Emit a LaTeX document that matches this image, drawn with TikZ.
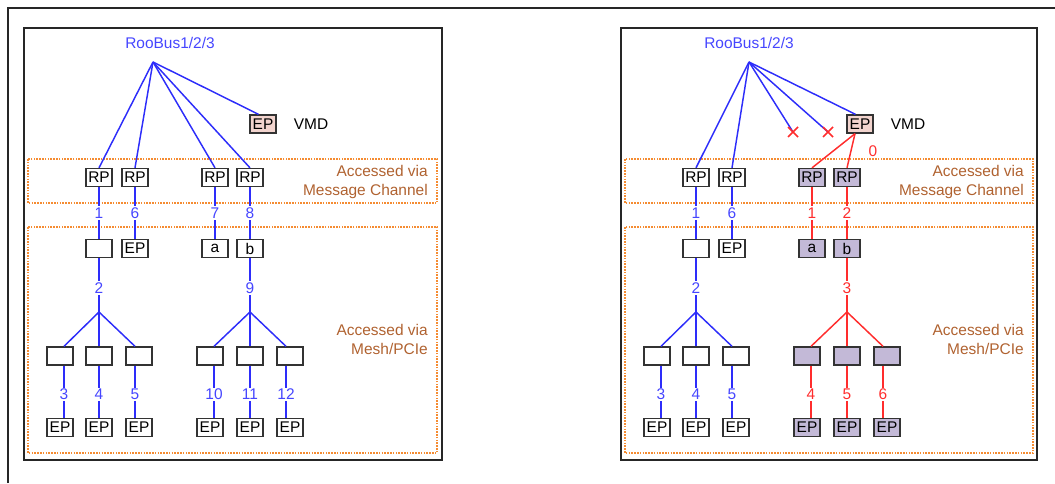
\documentclass[tikz,border=0pt]{standalone}
\usepackage{fontspec}
\setmainfont{Liberation Sans}
\usetikzlibrary{calc}
\definecolor{lnblue}{RGB}{45,45,250}
\definecolor{txblue}{RGB}{70,70,255}
\definecolor{lnred}{RGB}{255,45,45}
\definecolor{purp}{RGB}{195,185,215}
\definecolor{pinkf}{RGB}{242,212,206}
\definecolor{dotor}{RGB}{245,140,50}
\definecolor{brn}{RGB}{176,98,48}
\begin{document}
\begin{tikzpicture}[x=0.75pt,y=-0.75pt,
 font=\fontsize{11.6}{14.25}\selectfont,
 bx/.style={draw=black!80, line width=1pt, minimum width=19.5pt, minimum height=13.5pt, inner sep=0pt, fill=white},
 pbx/.style={bx, fill=purp},
 ebx/.style={bx, fill=pinkf},
 bl/.style={draw=lnblue, line width=1.1pt},
 rd/.style={draw=lnred, line width=1.1pt},
 numb/.style={fill=white, inner sep=1pt, text=txblue},
 numr/.style={fill=white, inner sep=1pt, text=lnred},
 zone/.style={draw=dotor, line width=1pt, dash pattern=on 1.2pt off 0.9pt},
 panel/.style={draw=black!85, line width=1.6pt},
 note/.style={text=brn, align=right, anchor=east, inner sep=0pt},
]
\useasboundingbox (0,0) rectangle (1055,483);
\draw[black!85, line width=0.9pt] (8,483) -- (8,8) -- (1056,8);

% ================= LEFT PANEL =================
\draw[panel] (24,28) rectangle (442,460);
\draw[zone] (28,159) rectangle (437,203);
\draw[zone] (28,227) rectangle (437,453);
\node[note] (Lmc) at (428,181.5) {Accessed via\\Message Channel};
\node[note] (Lmp) at (428,339) {Accessed via\\Mesh/PCIe};
\node[text=txblue] (Lbus) at (170,43) {RooBus1/2/3};
\coordinate (Lroot) at (153,62);
\node[ebx] (LEP) at (263,124) {EP};
\node (Lvmd) at (311,124) {VMD};
\node[bx] (LRP1) at (99,177.5) {RP};
\node[bx] (LRP2) at (135,177.5) {RP};
\node[bx] (LRP3) at (215,177.5) {RP};
\node[bx] (LRP4) at (250,177.5) {RP};
\node[bx] (LB1) at (99,248.5) {};
\node[bx] (LB2) at (135,248.5) {EP};
\node[bx] (LB3) at (215,248.5) {a};
\node[bx] (LB4) at (250,248.5) {b};
\coordinate (Lj1) at (99,312);
\coordinate (Lj2) at (250,312);
\node[bx] (LC1) at (60,356) {};
\node[bx] (LC2) at (99,356) {};
\node[bx] (LC3) at (139,356) {};
\node[bx] (LC4) at (210,356) {};
\node[bx] (LC5) at (250,356) {};
\node[bx] (LC6) at (290,356) {};
\node[bx] (LE1) at (60,427.5) {EP};
\node[bx] (LE2) at (99,427.5) {EP};
\node[bx] (LE3) at (139,427.5) {EP};
\node[bx] (LE4) at (210,427.5) {EP};
\node[bx] (LE5) at (250,427.5) {EP};
\node[bx] (LE6) at (290,427.5) {EP};

\draw[bl] (Lroot) -- (LRP1.north);
\draw[bl] (Lroot) -- (LRP2.north);
\draw[bl] (Lroot) -- (LRP3.north);
\draw[bl] (Lroot) -- (LRP4.north);
\draw[bl] (Lroot) -- (LEP.115);
\draw[bl] (LRP1) -- node[numb]{1} (LB1);
\draw[bl] (LRP2) -- node[numb]{6} (LB2);
\draw[bl] (LRP3) -- node[numb]{7} (LB3);
\draw[bl] (LRP4) -- node[numb]{8} (LB4);
\draw[bl] (LB1) -- node[numb,pos=0.55]{2} (Lj1);
\draw[bl] (LB4) -- node[numb,pos=0.55]{9} (Lj2);
\draw[bl] (Lj1) -- ($(LC1.north)+(4,0)$);
\draw[bl] (Lj1) -- (LC2.north);
\draw[bl] (Lj1) -- ($(LC3.north)+(-4,0)$);
\draw[bl] (Lj2) -- ($(LC4.north)+(4,0)$);
\draw[bl] (Lj2) -- (LC5.north);
\draw[bl] (Lj2) -- ($(LC6.north)+(-4,0)$);
\draw[bl] ($(LC1.south)+(4,0)$) -- node[numb,pos=0.55]{3} ($(LE1.north)+(4,0)$);
\draw[bl] (LC2) -- node[numb,pos=0.55]{4} (LE2);
\draw[bl] ($(LC3.south)+(-4,0)$) -- node[numb,pos=0.55]{5} ($(LE3.north)+(-4,0)$);
\draw[bl] ($(LC4.south)+(4,0)$) -- node[numb,pos=0.55]{10} ($(LE4.north)+(4,0)$);
\draw[bl] (LC5) -- node[numb,pos=0.55]{11} (LE5);
\draw[bl] ($(LC6.south)+(-4,0)$) -- node[numb,pos=0.55]{12} ($(LE6.north)+(-4,0)$);

% ================= RIGHT PANEL =================
\begin{scope}[shift={(597,0)}]
\draw[panel] (24,28) rectangle (440,460);
\draw[zone] (28,159) rectangle (436,203);
\draw[zone] (28,227) rectangle (436,453);
\node[note] (Rmc) at (427,181.5) {Accessed via\\Message Channel};
\node[note] (Rmp) at (427,339) {Accessed via\\Mesh/PCIe};
\node[text=txblue] (Rbus) at (152,43) {RooBus1/2/3};
\coordinate (Rroot) at (152,62);
\node[ebx] (REP) at (263,124) {EP};
\node (Rvmd) at (311,124) {VMD};
\node[text=lnred] (Rzero) at (276,151) {0};
\coordinate (Rx1) at (196,132);
\coordinate (Rx2) at (231,132);
\node[bx] (RRP1) at (99,177.5) {RP};
\node[bx] (RRP2) at (135,177.5) {RP};
\node[pbx] (RRP3) at (215,177.5) {RP};
\node[pbx] (RRP4) at (250,177.5) {RP};
\node[bx] (RB1) at (99,248.5) {};
\node[bx] (RB2) at (135,248.5) {EP};
\node[pbx] (RB3) at (215,248.5) {a};
\node[pbx] (RB4) at (250,248.5) {b};
\coordinate (Rj1) at (99,312);
\coordinate (Rj2) at (250,312);
\node[bx] (RC1) at (60,356) {};
\node[bx] (RC2) at (99,356) {};
\node[bx] (RC3) at (139,356) {};
\node[pbx] (RC4) at (210,356) {};
\node[pbx] (RC5) at (250,356) {};
\node[pbx] (RC6) at (290,356) {};
\node[bx] (RE1) at (60,427.5) {EP};
\node[bx] (RE2) at (99,427.5) {EP};
\node[bx] (RE3) at (139,427.5) {EP};
\node[pbx] (RE4) at (210,427.5) {EP};
\node[pbx] (RE5) at (250,427.5) {EP};
\node[pbx] (RE6) at (290,427.5) {EP};

\draw[bl] (Rroot) -- (RRP1.north);
\draw[bl] (Rroot) -- (RRP2.north);
\draw[bl] (Rroot) -- (Rx1);
\draw[bl] (Rroot) -- (Rx2);
\draw[bl] (Rroot) -- (REP.115);
\draw[rd] ($(Rx1)+(-5,-5)$) -- ($(Rx1)+(5,5)$) ($(Rx1)+(-5,5)$) -- ($(Rx1)+(5,-5)$);
\draw[rd] ($(Rx2)+(-5,-5)$) -- ($(Rx2)+(5,5)$) ($(Rx2)+(-5,5)$) -- ($(Rx2)+(5,-5)$);
\draw[rd] ($(REP.south)+(-5,0)$) -- (RRP3.north);
\draw[rd] ($(REP.south)+(-5,0)$) -- (RRP4.north);
\draw[bl] (RRP1) -- node[numb]{1} (RB1);
\draw[bl] (RRP2) -- node[numb]{6} (RB2);
\draw[rd] (RRP3) -- node[numr]{1} (RB3);
\draw[rd] (RRP4) -- node[numr]{2} (RB4);
\draw[bl] (RB1) -- node[numb,pos=0.55]{2} (Rj1);
\draw[rd] (RB4) -- node[numr,pos=0.55]{3} (Rj2);
\draw[bl] (Rj1) -- ($(RC1.north)+(4,0)$);
\draw[bl] (Rj1) -- (RC2.north);
\draw[bl] (Rj1) -- ($(RC3.north)+(-4,0)$);
\draw[rd] (Rj2) -- ($(RC4.north)+(4,0)$);
\draw[rd] (Rj2) -- (RC5.north);
\draw[rd] (Rj2) -- ($(RC6.north)+(-4,0)$);
\draw[bl] ($(RC1.south)+(4,0)$) -- node[numb,pos=0.55]{3} ($(RE1.north)+(4,0)$);
\draw[bl] (RC2) -- node[numb,pos=0.55]{4} (RE2);
\draw[bl] ($(RC3.south)+(-4,0)$) -- node[numb,pos=0.55]{5} ($(RE3.north)+(-4,0)$);
\draw[rd] ($(RC4.south)+(4,0)$) -- node[numr,pos=0.55]{4} ($(RE4.north)+(4,0)$);
\draw[rd] (RC5) -- node[numr,pos=0.55]{5} (RE5);
\draw[rd] ($(RC6.south)+(-4,0)$) -- node[numr,pos=0.55]{6} ($(RE6.north)+(-4,0)$);
\end{scope}
\end{tikzpicture}
\end{document}
